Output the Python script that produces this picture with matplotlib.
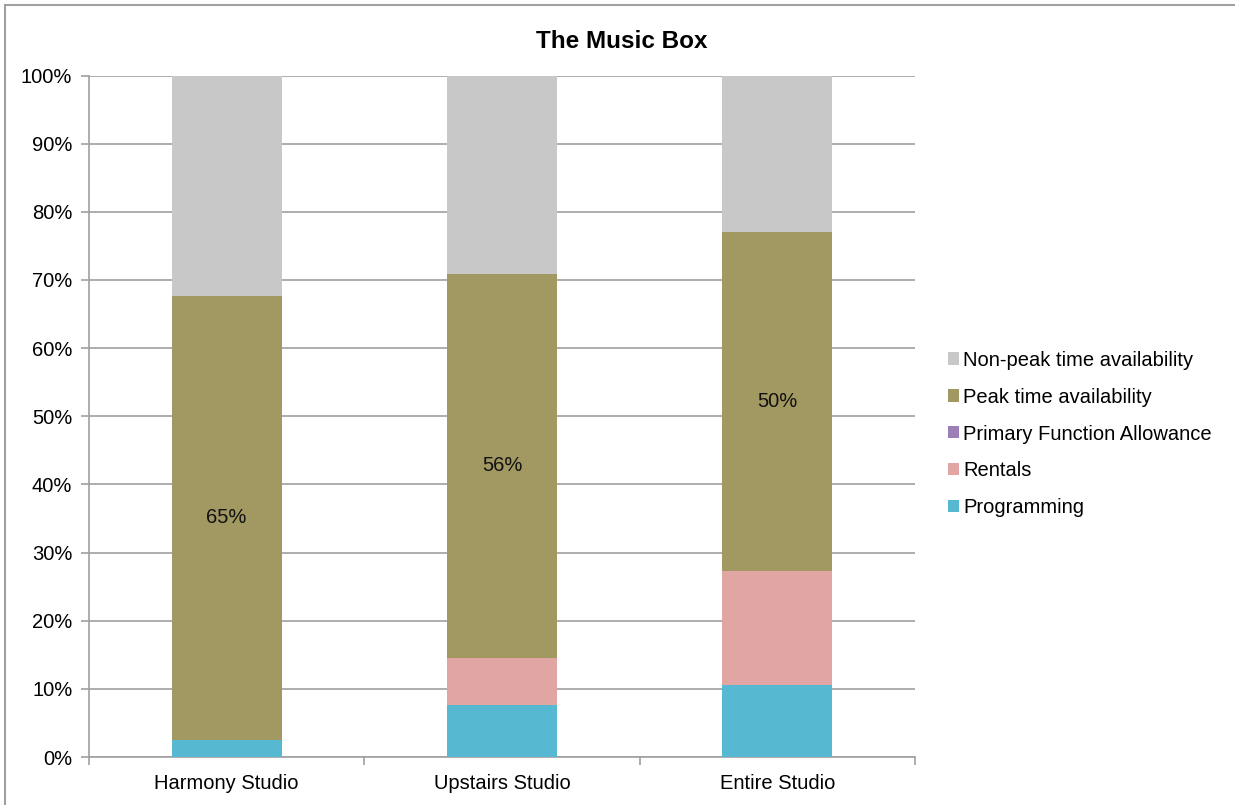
import matplotlib
matplotlib.use("Agg")
import matplotlib.pyplot as plt
from matplotlib.patches import Rectangle
import numpy as np

plt.rcParams['font.family'] = ['Liberation Sans', 'DejaVu Sans']

categories = ["Harmony Studio", "Upstairs Studio", "Entire Studio"]
programming = [2.5, 7.6, 10.6]
rentals = [0.0, 6.9, 16.7]
primary_function = [0.0, 0.0, 0.0]
peak = [65.2, 56.4, 49.7]
non_peak = [32.3, 29.1, 23.0]

series = [
    ("Programming", programming, "#57b9d1"),
    ("Rentals", rentals, "#e1a5a4"),
    ("Primary Function Allowance", primary_function, "#9b80b8"),
    ("Peak time availability", peak, "#a29862"),
    ("Non-peak time availability", non_peak, "#c8c8c8"),
]

W, H = 1235, 805
fig = plt.figure(figsize=(W / 100, H / 100), dpi=100)
ax = fig.add_axes([89 / W, 1 - 757 / H, (915 - 89) / W, (757 - 75.5) / H])

x = np.arange(len(categories))
bottom = np.zeros(len(categories))
handles = []
for name, vals, color in series:
    vals = np.array(vals, dtype=float)
    b = ax.bar(x, vals, width=0.4, bottom=bottom, color=color, label=name, zorder=3)
    handles.append(b)
    if name == "Peak time availability":
        for xi, v, bt in zip(x, vals, bottom):
            ax.text(xi, bt + v / 2, f"{round(v)}%", ha="center", va="center",
                    fontsize=14.5, color="#111111", zorder=4)
    bottom += vals

ax.set_xlim(-0.5, len(categories) - 0.5)
ax.set_ylim(0, 100)
ax.set_yticks(np.arange(0, 101, 10))
ax.set_yticklabels([f"{v}%" for v in range(0, 101, 10)], fontsize=14.5)
ax.yaxis.grid(True, color="#a0a0a0", linewidth=1.2, zorder=0)
ax.set_axisbelow(True)

ax.set_xticks(x)
ax.set_xticklabels(categories, fontsize=14.5)
ax.tick_params(axis="x", length=0, pad=12)
ax.set_xticks(np.arange(-0.5, len(categories), 1), minor=True)
ax.tick_params(axis="x", which="minor", length=6, color="#a0a0a0", width=1.2)
ax.tick_params(axis="y", length=6, color="#a0a0a0", width=1.2, pad=6)

for s in ["top", "right"]:
    ax.spines[s].set_visible(False)
for s in ["left", "bottom"]:
    ax.spines[s].set_color("#a0a0a0")
    ax.spines[s].set_linewidth(1.2)

fig.text(622 / W, 1 - 42 / H, "The Music Box", ha="center", va="center",
         fontsize=17.5, fontweight="bold")

leg_order = handles[::-1]
leg = fig.legend(leg_order, [s[0] for s in series][::-1],
                 loc="center left", bbox_to_anchor=(940 / W, 1 - 434 / H),
                 frameon=False, fontsize=14.5, handlelength=0.55, handleheight=0.55,
                 handletextpad=0.2, labelspacing=0.89, borderaxespad=0)

# outer chart border
fig.patches.append(Rectangle((5 / W, -0.1), 1.2, (1 - 5 / H) + 0.1,
                             transform=fig.transFigure, fill=False,
                             edgecolor="#a0a0a0", linewidth=1.5))

fig.savefig("out.png", dpi=100)
